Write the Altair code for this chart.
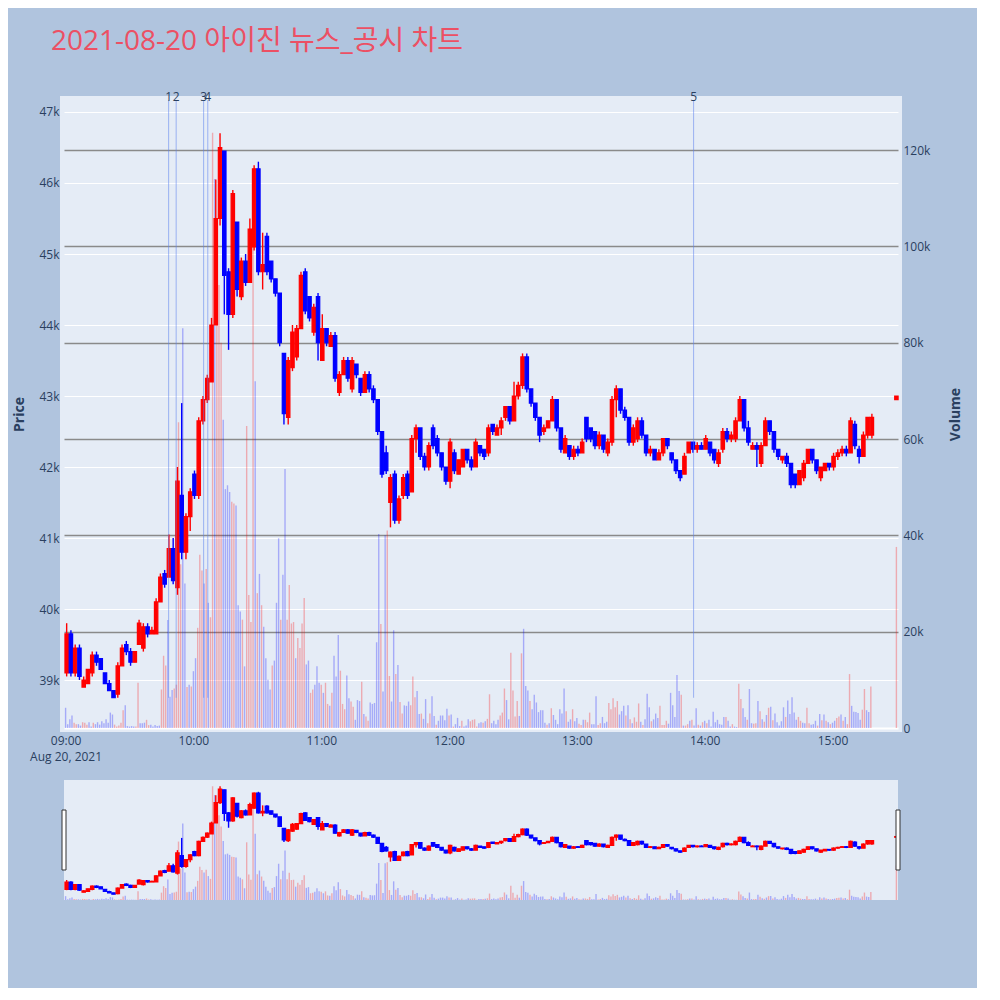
import altair as alt
import pandas as pd

title_text = "2021-08-20 아이진 뉴스_공시 차트"

# 2-minute candles, first bucket starts 09:00 (prices in KRW)
candle_open = [
    39100, 39650, 39100, 39450, 38900, 38950, 39100, 39350, 39300, 39100,
    38950, 38850, 38800, 39200, 39500, 39400, 39250, 39500, 39450, 39750,
    39650, 39650, 40100, 40500, 40450, 40850, 40300, 41600, 40800, 41300,
    41900, 41600, 42650, 42950, 43200, 44000, 45500, 46450, 44750, 44150,
    45450, 44400, 44900, 44600, 45100, 46200, 44750, 45250, 44900, 44650,
    44450, 43600, 42700, 43400, 43550, 43950, 44750, 44400, 43900, 44400,
    43500, 43950, 43700, 43850, 43050, 43300, 43500, 43100, 43450, 43250,
    43050, 43300, 43100, 42950, 42500, 42200, 41500, 41900, 41250, 41600,
    41900, 41650, 42400, 42550, 42150, 42000, 42550, 42400, 42200, 42000,
    41800, 42200, 41900, 42000, 42250, 42100, 42000, 42300, 42250, 42200,
    42600, 42450, 42550, 42700, 42850, 42650, 43000, 43150, 43550, 43100,
    42900, 42700, 42500, 42550, 42650, 42950, 42550, 42200, 42300, 42150,
    42250, 42200, 42700, 42550, 42500, 42300, 42450, 42200, 42350, 42950,
    43100, 42800, 42700, 42350, 42400, 42650, 42450, 42200, 42250, 42100,
    42200, 42400, 42200, 42100, 41950, 41900, 42200, 42350, 42250, 42300,
    42250, 42350, 42250, 42050, 42250, 42500, 42400, 42400, 42650, 42950,
    42550, 42250, 42300, 42050, 42300, 42650, 42500, 42250, 42100, 42150,
    42050, 41900, 41750, 41850, 42050, 42250, 42100, 41850, 41950, 42050,
    42000, 42150, 42200, 42250, 42200, 42600, 42250, 42150, 42450, 42450,
]
candle_high = [
    39800, 39700, 39500, 39500, 39050, 39150, 39400, 39400, 39300, 39100,
    39000, 38850, 39250, 39500, 39550, 39450, 39400, 39850, 39800, 39800,
    39750, 40150, 40500, 40550, 41050, 41000, 42000, 42900, 41350, 41700,
    41950, 42700, 43000, 43300, 44100, 46050, 46700, 46450, 44800, 45900,
    45450, 44950, 45000, 45500, 46250, 46300, 45300, 45300, 44900, 44650,
    44450, 43600, 43550, 44000, 44000, 44750, 44800, 44400, 44300, 44450,
    44150, 43950, 43900, 43900, 43350, 43550, 43550, 43550, 43450, 43250,
    43350, 43350, 43150, 42950, 42500, 42300, 41900, 41950, 41600, 41900,
    41950, 42450, 42600, 42550, 42200, 42350, 42600, 42450, 42200, 42000,
    42400, 42250, 42100, 42250, 42250, 42150, 42400, 42300, 42250, 42600,
    42600, 42600, 42700, 42850, 42850, 43200, 43200, 43600, 43600, 43100,
    42900, 42700, 42600, 42650, 43000, 42950, 42550, 42450, 42300, 42300,
    42300, 42400, 42700, 42550, 42500, 42500, 42450, 42400, 43000, 43150,
    43100, 42850, 42700, 42600, 42700, 42700, 42450, 42300, 42250, 42250,
    42400, 42400, 42200, 42100, 41950, 42200, 42350, 42350, 42350, 42350,
    42450, 42350, 42250, 42250, 42550, 42550, 42500, 42700, 43000, 42950,
    42650, 42350, 42350, 42350, 42700, 42650, 42500, 42250, 42150, 42200,
    42050, 41900, 41950, 42100, 42250, 42250, 42100, 42000, 42050, 42050,
    42200, 42250, 42300, 42300, 42700, 42650, 42300, 42500, 42700, 42750,
]
candle_low = [
    39050, 39050, 39050, 39000, 38900, 38950, 39050, 39200, 39150, 38950,
    38850, 38750, 38750, 39200, 39350, 39200, 39250, 39500, 39400, 39600,
    39650, 39650, 40100, 40300, 40450, 40350, 40200, 40700, 40700, 41100,
    41550, 41550, 42600, 42900, 43200, 44000, 45400, 44150, 43650, 44100,
    44400, 44350, 44550, 44600, 45050, 44700, 44500, 44700, 44600, 44400,
    43700, 42600, 42600, 43350, 43500, 43950, 44150, 44050, 43850, 43500,
    43500, 43700, 43700, 43200, 43000, 43300, 43200, 43050, 43250, 43000,
    43050, 43050, 42900, 42450, 41850, 41900, 41150, 41200, 41200, 41550,
    41550, 41650, 42200, 42100, 41950, 41950, 42250, 42150, 41950, 41750,
    41700, 41900, 41900, 42000, 42050, 41950, 42000, 42150, 42100, 42150,
    42450, 42450, 42450, 42650, 42600, 42650, 42950, 43100, 43050, 42850,
    42650, 42350, 42450, 42550, 42650, 42500, 42200, 42200, 42100, 42100,
    42150, 42200, 42350, 42350, 42250, 42250, 42200, 42150, 42300, 42700,
    42750, 42650, 42300, 42300, 42350, 42400, 42150, 42150, 42100, 42100,
    42150, 42250, 42050, 41900, 41800, 41900, 42200, 42200, 42200, 42250,
    42250, 42150, 42050, 42000, 42200, 42350, 42350, 42350, 42650, 42500,
    42300, 42250, 42000, 42000, 42300, 42450, 42200, 42100, 42050, 42000,
    41700, 41700, 41750, 41800, 42050, 42050, 41900, 41800, 41950, 41950,
    41950, 42100, 42150, 42150, 42200, 42250, 42050, 42150, 42400, 42400,
]
candle_close = [
    39650, 39100, 39450, 39050, 39000, 39150, 39350, 39250, 39150, 38950,
    38850, 38750, 39200, 39450, 39400, 39250, 39400, 39800, 39750, 39650,
    39700, 40100, 40450, 40350, 40850, 40400, 41800, 40800, 41300, 41650,
    41600, 42650, 42950, 43250, 44000, 45500, 46500, 44700, 44150, 45850,
    44500, 44900, 44600, 45350, 46200, 44750, 44850, 44750, 44650, 44450,
    43750, 42750, 43500, 43900, 43950, 44700, 44200, 44100, 44250, 43750,
    43950, 43750, 43850, 43250, 43300, 43500, 43250, 43500, 43300, 43050,
    43300, 43100, 42950, 42500, 41900, 41950, 41850, 41250, 41550, 41850,
    41600, 42400, 42550, 42150, 42000, 42300, 42300, 42200, 42000, 41800,
    42350, 41950, 42100, 42250, 42100, 42000, 42350, 42200, 42150, 42550,
    42500, 42550, 42650, 42850, 42650, 43000, 43150, 43550, 43100, 42900,
    42700, 42450, 42550, 42650, 42950, 42550, 42250, 42400, 42150, 42250,
    42200, 42350, 42400, 42400, 42300, 42450, 42250, 42350, 42950, 43100,
    42800, 42700, 42350, 42550, 42650, 42450, 42200, 42250, 42100, 42200,
    42400, 42300, 42100, 41950, 41850, 42150, 42350, 42250, 42300, 42250,
    42400, 42200, 42100, 42200, 42500, 42400, 42450, 42650, 42950, 42550,
    42350, 42300, 42250, 42300, 42650, 42500, 42250, 42150, 42150, 42050,
    41750, 41750, 41950, 42050, 42250, 42100, 41950, 42000, 42050, 42000,
    42150, 42200, 42250, 42200, 42650, 42300, 42150, 42450, 42700, 42700,
]
# closing auction print (15:30)
auction_ohlc = [42950, 43000, 42950, 43000]
auction_volume_k = 37.6

# per-minute volume (thousand shares), 09:00 .. 15:18
vol_k = [
    4.2, 0.8, 1.8, 2.6, 1.1, 0.8, 0.8, 0.5, 1.2, 1.1,
    0.7, 1.2, 0.3, 1.1, 0.8, 1.2, 0.7, 1.4, 1.0, 1.8,
    1.1, 3.2, 2.8, 0.7, 0.3, 0.5, 1.1, 3.7, 4.7, 0.4,
    0.3, 0.4, 0.3, 0.3, 9.4, 1.0, 1.0, 1.1, 1.7, 0.6,
    0.7, 0.3, 0.6, 0.4, 0.5, 8.0, 15.0, 13.0, 22.4, 6.5,
    7.9, 8.2, 9.0, 63.5, 34.0, 83.0, 30.0, 8.5, 9.0, 8.6,
    11.8, 14.5, 20.8, 36.0, 32.7, 30.0, 33.0, 26.0, 23.0, 123.6,
    114.0, 100.0, 92.0, 80.0, 64.0, 49.6, 50.4, 49.0, 47.0, 46.6,
    46.2, 25.5, 24.2, 22.5, 12.8, 62.7, 27.6, 22.0, 105.0, 72.0,
    28.0, 32.0, 25.5, 21.0, 14.5, 10.0, 8.0, 13.0, 14.0, 26.0,
    39.4, 22.5, 31.8, 53.8, 22.5, 29.7, 21.7, 22.0, 14.5, 18.7,
    16.6, 21.7, 27.0, 13.2, 14.0, 7.3, 8.0, 9.0, 12.8, 9.4,
    9.0, 7.3, 9.4, 5.0,
    4.6, 7.3, 15.0, 10.7, 19.3, 11.9, 5.0, 3.9, 10.9, 6.2,
    5.5, 4.4, 1.7, 5.8, 5.6, 9.6, 2.9, 2.4, 1.5, 5.3,
    5.0, 5.2, 17.8, 40.3, 21.6, 7.6, 40.0, 41.0, 10.8, 5.5,
    20.3, 11.2, 13.1, 5.4, 3.0, 4.7, 4.6, 5.5, 4.7, 10.7,
    6.4, 7.7, 2.9, 3.0, 1.9, 6.0, 1.0, 3.0, 6.6, 2.5,
    0.7, 1.5, 2.6, 2.6, 1.6, 4.0, 2.6, 2.8, 0.3, 0.8,
    2.1, 0.4, 1.5, 0.3, 0.5, 1.8, 1.4, 1.7, 1.8, 0.3,
    1.0, 1.2, 1.1, 1.4, 1.9, 7.0, 1.0, 1.5, 0.8, 1.7,
    2.6, 3.2, 8.2, 5.8, 1.8, 15.6, 7.8, 2.4, 5.6, 2.5,
    15.5, 20.6, 8.7, 7.8, 5.6, 3.9, 6.9, 5.3, 3.3, 3.7,
    3.7, 1.1, 0.7, 1.0, 4.1, 2.7, 1.7, 0.8, 3.9, 3.0,
    8.2, 3.5, 1.3, 1.8, 3.9, 1.4, 2.1, 0.9, 0.6, 1.7,
    1.7, 1.2, 3.2, 0.8, 0.8, 6.6, 0.6, 1.0, 2.3, 1.0,
    1.3, 5.2, 3.9, 6.2, 4.3, 5.6,
    2.8, 3.5, 4.6, 2.6, 4.7, 1.8, 1.0, 2.2, 1.3, 5.1,
    1.3, 0.6, 1.8, 7.1, 4.3, 1.4, 1.8, 3.0, 2.1, 4.6,
    0.6, 0.6, 1.5, 0.9, 7.3, 4.7, 2.3, 11.0, 7.7, 6.9,
    0.5, 0.5, 0.8, 1.5, 1.7, 0.5, 4.1, 0.7, 0.5, 1.2,
    1.5, 1.0, 1.7, 0.3, 3.4, 1.2, 1.7, 0.8, 0.7, 2.3,
    2.3, 1.5, 0.3, 0.8, 0.3, 0.2, 9.2, 6.0, 4.1, 2.3,
    1.7, 8.1, 1.0, 0.9, 1.0, 5.6, 3.5, 1.8, 1.3, 2.7,
    4.2, 4.4, 1.6, 3.0, 1.2, 0.5, 1.4, 4.3, 2.3, 5.7,
    2.9, 6.4, 3.2, 1.7, 2.3, 1.5, 1.1, 1.0, 4.2, 1.0,
    0.7, 0.8, 1.5, 0.5, 2.9, 1.6, 2.8, 1.5, 1.2, 0.8,
    1.1, 1.5, 2.1, 2.4, 2.8, 1.5, 2.3, 0.8, 11.2, 4.6,
    3.4, 3.3, 3.1, 1.7, 3.8, 8.1, 3.7, 3.3, 8.6,
]
# r = rising minute (red), b = falling minute (blue)
vol_side = list(
    "bbbbrrbbrr" "rbbrbbbbbb" "bbbrrrrrbb" "bbbrrbbbrr" "bbbbbrrrbb"
    "brrrrbbrbr" "bbrrrbrbrr" "brrrbbbbrr" "bbbrbrrrrb" "rbrbbbbrbb"
    "brbbrrrrbr" "rrrbbrrbbb" "rbrr"
    "brbbbrrrbb" "rrbbbrbrrb" "bbbbrbbrrb" "brbrrbbbrr" "rbbrbbrrbb"
    "rbbbbbrbrb" "bbrbbbrrrr" "bbrbrrbbbb" "rrrbbrrrrb" "rbbbrbbbbb"
    "bbrbrbbbbb" "brbbrbbrrb" "rrrbbbrrbb" "brrrrr"
    "bbbrbrbrrr" "brbbbrbbbr" "rrrbbbbbbr" "brrbrbbrbr" "brbbbbbbbb"
    "rbbrbbrrbb" "rbbrrbrbrb" "rbrbbbbbrb" "bbbbrrbbrr" "bbbrbrbrbr"
    "bbrrbrbrrb" "bbbbrrbbr"
)

news_labels = ["1", "2", "3", "4", "5"]
news_times = ["2021-08-20 09:48:22", "2021-08-20 09:51:54", "2021-08-20 10:04:48",
              "2021-08-20 10:06:45", "2021-08-20 13:54:48"]

hour_ticks = [9, 10, 11, 12, 13, 14, 15]
price_ticks = [39000, 40000, 41000, 42000, 43000, 44000, 45000, 46000, 47000]
volume_ticks = [0, 20, 40, 60, 80, 100, 120]

PRICE_DOMAIN = [38324, 47169]
VOLUME_DOMAIN = [0, 130.4]

# ---------------------------------------------------------------- tables
day = pd.Timestamp("2021-08-20 09:00:00")
auction_time = pd.Timestamp("2021-08-20 15:30:00")
c_times = [day + pd.Timedelta(minutes=2 * i, seconds=30) for i in range(len(candle_open))]
candles = pd.DataFrame({
    "t": c_times + [auction_time],
    "open": candle_open + [auction_ohlc[0]],
    "high": candle_high + [auction_ohlc[1]],
    "low": candle_low + [auction_ohlc[2]],
    "close": candle_close + [auction_ohlc[3]],
})
candles["dir"] = ["up" if c > o else "down" for o, c in zip(candles["open"], candles["close"])]

volume = pd.DataFrame({
    "t": [day + pd.Timedelta(minutes=i) for i in range(len(vol_k))] + [auction_time],
    "v": vol_k + [auction_volume_k],
    "dir": ["up" if s == "r" else "down" for s in vol_side] + ["up"],
})

news = pd.DataFrame({"t": pd.to_datetime(news_times), "label": news_labels})
news["y0"] = min(candle_low)
news["y1"] = PRICE_DOMAIN[1]


def dt(h, m=0, s=0):
    return alt.DateTime(year=2021, month=8, date=20, hours=h, minutes=m, seconds=s)


x_scale = alt.Scale(domain=[dt(8, 59, 15), dt(15, 30, 45)], nice=False, padding=0)
price_scale = alt.Scale(domain=PRICE_DOMAIN, nice=False, zero=False)
vol_scale = alt.Scale(domain=VOLUME_DOMAIN, nice=False)
color_scale = alt.Scale(domain=["up", "down"], range=["#ff0000", "#0000ff"])
FONT_COLOR = "#2a3f5f"

x_axis = alt.Axis(
    values=[dt(h) for h in hour_ticks],
    labelExpr="hours(datum.value) == 9 ? ['09:00', 'Aug 20, 2021'] : timeFormat(datum.value, '%H:%M')",
    title=None, grid=False, ticks=False, domain=False, labelPadding=7,
    labelFontSize=12, labelLineHeight=16, labelColor=FONT_COLOR, labelFlush=False,
)
price_axis = alt.Axis(
    orient="left", values=price_ticks, labelExpr="(datum.value / 1000) + 'k'",
    title="Price", titleFontSize=14, titleFontWeight="bold", titleColor=FONT_COLOR,
    titlePadding=12, grid=True, gridColor="#ffffff", gridWidth=1, ticks=False,
    domain=False, labelPadding=5, labelFontSize=12, labelColor=FONT_COLOR,
)
vol_axis = alt.Axis(
    orient="right", values=volume_ticks,
    labelExpr="datum.value == 0 ? '0' : datum.value + 'k'",
    title="Volume", titleFontSize=14, titleFontWeight="bold", titleColor=FONT_COLOR,
    titleAngle=270, titlePadding=33, grid=True,
    gridColor={"condition": {"test": "datum.value === 0", "value": "#ffffff"}, "value": "#8a8a8a"},
    gridWidth={"condition": {"test": "datum.value === 0", "value": 2}, "value": 1.4},
    ticks=False, domain=False, labelPadding=5, labelFontSize=12, labelColor=FONT_COLOR,
)


def layers(show_axes, with_news):
    xa = x_axis if show_axes else None
    pa = price_axis if show_axes else None
    vbar = alt.Chart(volume).mark_bar(width=1.4, opacity=0.28).encode(
        x=alt.X("t:T", scale=x_scale, axis=xa),
        y=alt.Y("v:Q", scale=vol_scale, axis=vol_axis if show_axes else None),
        color=alt.Color("dir:N", scale=color_scale, legend=None),
    )
    wick = alt.Chart(candles).mark_rule(strokeWidth=1.4).encode(
        x=alt.X("t:T", scale=x_scale, axis=xa),
        y=alt.Y("low:Q", scale=price_scale, axis=pa),
        y2="high:Q",
        color=alt.Color("dir:N", scale=color_scale, legend=None),
    )
    body = alt.Chart(candles).mark_bar(width=3.4, strokeWidth=1.2).encode(
        x=alt.X("t:T", scale=x_scale, axis=xa),
        y=alt.Y("open:Q", scale=price_scale, axis=pa),
        y2="close:Q",
        color=alt.Color("dir:N", scale=color_scale, legend=None),
        stroke=alt.Stroke("dir:N", scale=color_scale, legend=None),
    )
    price_layers = [wick, body]
    if with_news:
        rule = alt.Chart(news).mark_rule(color="#5b7fef", opacity=0.55, strokeWidth=1).encode(
            x=alt.X("t:T", scale=x_scale, axis=xa),
            y=alt.Y("y0:Q", scale=price_scale, axis=pa),
            y2="y1:Q",
        )
        txt = alt.Chart(news).mark_text(dy=-3, baseline="middle", fontSize=12, color=FONT_COLOR).encode(
            x=alt.X("t:T", scale=x_scale, axis=xa),
            y=alt.Y("y1:Q", scale=price_scale, axis=pa),
            text="label:N",
        )
        price_layers += [rule, txt]
    return alt.layer(vbar, alt.layer(*price_layers)).resolve_scale(y="independent")


main = layers(True, True).properties(
    width=834, height=628,
    view=alt.ViewBackground(fill="#E5ECF6", stroke="#E5ECF6", strokeWidth=8),
)

handle_times = pd.DataFrame({"t": [pd.Timestamp("2021-08-20 08:59:15"), pd.Timestamp("2021-08-20 15:30:45")]})
handles = alt.Chart(handle_times).mark_tick(
    orient="vertical", size=60, thickness=4, color="#ffffff", stroke="#333333", strokeWidth=1, opacity=1
).encode(x=alt.X("t:T", scale=x_scale, axis=None), y=alt.value(60))

slider = alt.layer(layers(False, False), handles).properties(
    width=834, height=120,
    view=alt.ViewBackground(fill="#E5ECF6", strokeWidth=0),
)

chart = alt.vconcat(main, slider, spacing=52, bounds="flush").properties(
    title=alt.TitleParams(
        text=title_text, anchor="start", frame="group", fontSize=28,
        font="Open Sans, Noto Sans CJK KR", fontWeight="normal", color="#EC5064",
        dx=-13, offset=31,
    ),
    background="#B0C4DE",
    padding={"left": 0, "top": 20, "right": 10, "bottom": 88},
).configure(font="Open Sans").configure_view(strokeWidth=0)

chart.save("out.html", embed_options={"renderer": "svg", "actions": False})
